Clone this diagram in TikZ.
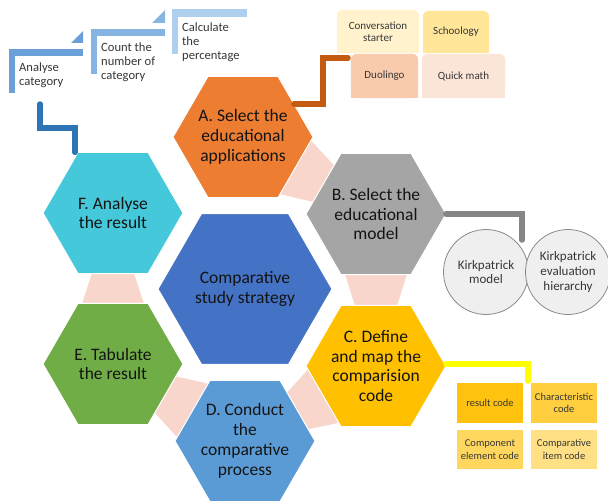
\documentclass[tikz,border=0pt]{standalone}
\usepackage{fontspec}
\setmainfont{Carlito}
\usetikzlibrary{shapes.geometric,calc,backgrounds}
\definecolor{cA}{HTML}{ED7D31}
\definecolor{cB}{HTML}{A5A5A5}
\definecolor{cC}{HTML}{FFC000}
\definecolor{cD}{HTML}{5B9BD5}
\definecolor{cE}{HTML}{70AD47}
\definecolor{cF}{HTML}{44C8DA}
\definecolor{cM}{HTML}{4472C4}
\definecolor{pinkc}{HTML}{F8D6CB}
\definecolor{txt}{HTML}{141414}
\definecolor{stepa}{HTML}{6A9FD8}
\definecolor{stepb}{HTML}{86B4E3}
\definecolor{stepc}{HTML}{AECFEE}
\definecolor{lorange}{HTML}{C55A11}
\definecolor{lgray}{HTML}{858585}
\definecolor{lyellow}{HTML}{FFFF00}
\definecolor{lblue}{HTML}{2E75B6}
\definecolor{apconv}{HTML}{FFF2CC}
\definecolor{apschool}{HTML}{FFE699}
\definecolor{apduo}{HTML}{F8CBAD}
\definecolor{apquick}{HTML}{FBE5D6}
\definecolor{cdres}{HTML}{FFC20F}
\definecolor{cdchar}{HTML}{FFCF40}
\definecolor{cdcomp}{HTML}{FFD65E}
\definecolor{cditem}{HTML}{FFE084}
\definecolor{circfill}{HTML}{EFEFEF}
\definecolor{circdraw}{HTML}{8A8A8A}
\newcommand\pinkbridge[2]{%
  \fill[pinkc] ($($(#1)!57pt!(#2)$)!32pt!90:(#2)$) -- ($($(#2)!57pt!(#1)$)!20pt!-90:(#1)$)
    -- ($($(#2)!57pt!(#1)$)!20pt!90:(#1)$) -- ($($(#1)!57pt!(#2)$)!32pt!-90:(#2)$) -- cycle;}
\newcommand\topround[2]{%
  \fill[#2, rounded corners=6pt] (#1.south west) rectangle (#1.north east);
  \fill[#2] (#1.south west) rectangle (#1.east);}
\begin{document}
\begin{tikzpicture}[x=1pt,y=-1pt,
  hex/.style={regular polygon, regular polygon sides=6, minimum size=#1, inner sep=0pt, outer sep=0pt, draw=white, line width=1pt},
  hex/.default=140pt,
  hextext/.style={align=center, font=\fontsize{17.5}{19.8}\selectfont, text=txt, inner sep=0pt},
  conn/.style={line width=5.5pt, line cap=round, line join=miter},
  steptext/.style={anchor=west, align=left, font=\fontsize{12.6}{14}\selectfont, text=txt!85, inner sep=0pt},
  appbox/.style={minimum width=#1, align=center, inner sep=0pt, minimum height=44pt, font=\fontsize{11}{12.5}\selectfont, text=txt!85},
  codebox/.style={minimum width=66pt, minimum height=40pt, align=center, inner sep=0pt, fill=#1, font=\fontsize{10.5}{12.3}\selectfont, text=txt!85},
  kirk/.style={circle, minimum size=85pt, inner sep=0pt, fill=circfill, draw=circdraw, line width=0.8pt, align=center, font=\fontsize{13}{14.8}\selectfont, text=txt!85}
]
\useasboundingbox (0,0) rectangle (608,503);

% hexagons
\node[hex, fill=cA] (A) at (243,137) {};
\node[hex, fill=cB] (B) at (376,214) {};
\node[hex, fill=cC] (C) at (376,366) {};
\node[hex, fill=cD] (D) at (245,441) {};
\node[hex, fill=cE] (E) at (113,364) {};
\node[hex, fill=cF] (F) at (113,213) {};
\node[hex=174pt, fill=cM] (M) at (245,289) {};

\node[hextext] (At) at (A) {A. Select the\\educational\\applications};
\node[hextext] (Bt) at (B) {B. Select the\\educational\\model};
\node[hextext] (Ct) at (C) {C. Define\\and map the\\comparision\\code};
\node[hextext] (Dt) at (D) {D. Conduct\\the\\comparative\\process};
\node[hextext] (Et) at (E) {E. Tabulate\\the result};
\node[hextext] (Ft) at (F) {F. Analyse\\the result};
\node[hextext] (Mt) at (M) {Comparative\\study strategy};

% top-left steps
\fill[stepa] (9,49) rectangle (83,56);
\fill[stepa] (9,49) rectangle (15,93);
\fill[stepa] (71,43) -- (83,31) -- (83,43) -- cycle;
\fill[stepb] (91,29) rectangle (165,36);
\fill[stepb] (91,29) rectangle (97,74);
\fill[stepb] (152,23) -- (165,10) -- (165,23) -- cycle;
\fill[stepc] (172,9) rectangle (247,17);
\fill[stepc] (172,9) rectangle (178,54);
\node[steptext] (s1) at (19,75) {Analyse\\category};
\node[steptext] (s2) at (101,62) {Count the\\number of\\category};
\node[steptext] (s3) at (182,42) {Calculate\\the\\percentage};

% application boxes
\node[appbox=82pt, minimum height=43pt] (conv) at (378,31.5) {Conversation\\starter};
\node[appbox=66pt, minimum height=42pt] (school) at (456,32) {Schoology};
\node[appbox=67pt] (duo) at (384.5,76) {Duolingo};
\node[appbox=83pt] (quick) at (463.5,76) {Quick math};

% code boxes
\node[codebox=cdres] (res) at (490,403) {result code};
\node[codebox=cdchar] (char) at (564,403) {Characteristic\\code};
\node[codebox=cdcomp, minimum height=39pt] (comp) at (490,449.5) {Component\\element code};
\node[codebox=cditem, minimum height=39pt] (item) at (564,449.5) {Comparative\\item code};

% Kirkpatrick circles
\node[kirk] (k1) at (486,272) {Kirkpatrick\\model};
\node[kirk] (k2) at (568,272) {Kirkpatrick\\evaluation\\hierarchy};

% connectors
\coordinate (oa) at (323,58);
\coordinate (oe) at (348,58);
\draw[conn, lorange] (A.33) -| (oa) -- (oe);
\coordinate (gk) at (522,240);
\draw[conn, lgray] (B.east) -| (gk);
\coordinate (yk) at (528,381);
\draw[conn, lyellow] ([yshift=2pt]C.east) -| (yk);
\coordinate (fb1) at (75,128);
\coordinate (fb2) at (40,104);
\draw[conn, lblue] (fb1 |- F.north) -- (fb1) -| (fb2);

\begin{scope}[on background layer]
  \pinkbridge{A}{B}
  \pinkbridge{B}{C}
  \pinkbridge{C}{D}
  \pinkbridge{D}{E}
  \pinkbridge{E}{F}
  \topround{conv}{apconv}
  \topround{school}{apschool}
  \topround{duo}{apduo}
  \topround{quick}{apquick}
\end{scope}
\end{tikzpicture}
\end{document}
